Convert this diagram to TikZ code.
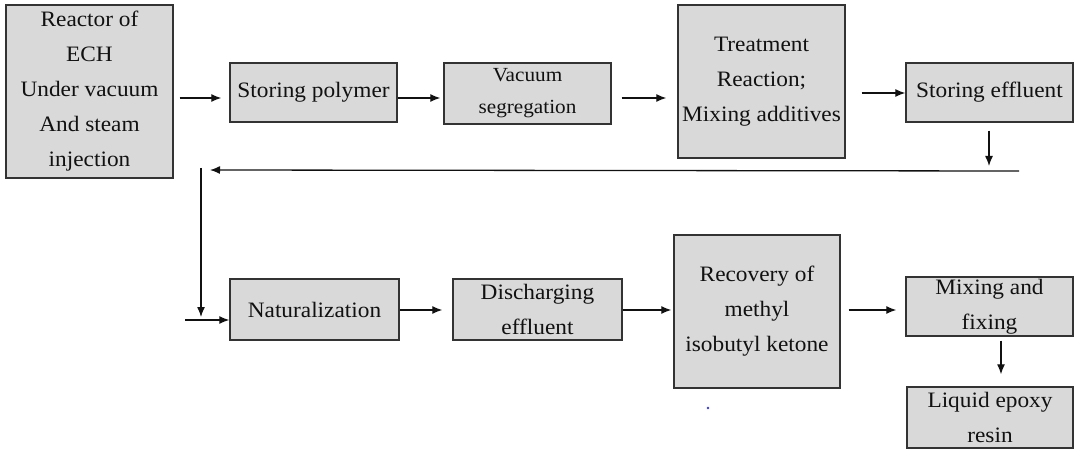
\documentclass[tikz,border=0pt]{standalone}
\usepackage{fontspec}
\setmainfont{Liberation Serif}[FakeStretch=1.06]
\usetikzlibrary{arrows.meta}
\definecolor{boxgray}{HTML}{D9D9D9}
\definecolor{edge}{HTML}{333333}
\definecolor{txt}{HTML}{111111}
\tikzset{
  box/.style={draw=edge, fill=boxgray, line width=1.4pt, inner sep=0pt, align=center,
    text=txt, font=\fontsize{22}{35}\selectfont, minimum width=167pt},
  arr/.style={line width=1.3pt, draw=txt, -{Latex[length=10pt,width=8pt]}},
  ln/.style={line width=1.3pt, draw=txt}
}
\begin{document}
\begin{tikzpicture}[x=1pt,y=-1pt]
\useasboundingbox (0,0) rectangle (1074,449);
% top row
\node[box, minimum height=173pt] (reactor) at (89.5,91.5) {Reactor of\\ECH\\Under vacuum\\And steam\\injection};
\node[box, minimum height=59pt] (storpoly) at (313.5,92.5) {Storing polymer};
\node[box, minimum height=61pt, font=\fontsize{20}{32}\selectfont] (vacseg) at (527.5,93.5) {Vacuum\\segregation};
\node[box, minimum height=153pt] (treat) at (761.5,81.5) {Treatment\\Reaction;\\Mixing additives};
\node[box, minimum height=59pt] (storeff) at (989.5,92.5) {Storing effluent};
% bottom row
\node[box, minimum width=169pt, minimum height=61pt] (natur) at (314.5,309.5) {Naturalization};
\node[box, minimum width=169pt, minimum height=61pt] (disch) at (537.5,309.5) {Discharging\\effluent};
\node[box, minimum width=166pt, minimum height=153pt] (recov) at (757,311.5) {Recovery of\\methyl\\isobutyl ketone};
\node[box, minimum height=59pt] (mixfix) at (989.5,306.5) {Mixing and\\fixing};
\node[box, minimum width=166pt, minimum height=61pt] (liquid) at (990,417.5) {Liquid epoxy\\resin};
% helper coordinates
\coordinate (ra) at (0,98);
\coordinate (rb) at (0,93);
\coordinate (rc) at (0,310);
\coordinate (t) at (989,171);
\coordinate (r1) at (1019,171);
\coordinate (l1) at (210,170);
\coordinate (v1) at (201,168);
\coordinate (v2) at (201,317);
\coordinate (in) at (185,320);
% top connectors
\draw[arr, shorten <=6pt, shorten >=8pt] (reactor.east |- ra) -- (storpoly.west |- ra);
\draw[arr, shorten >=3pt] (storpoly.east |- ra) -- (vacseg.west |- ra);
\draw[arr, shorten <=10pt, shorten >=11pt] (vacseg.east |- ra) -- (treat.west |- ra);
\draw[arr, shorten <=16pt] (treat.east |- rb) -- (storeff.west |- rb);
\draw[arr, shorten <=8pt, shorten >=5pt] (storeff.south -| t) -- (t);
% return line
\draw[arr] (r1) -- (l1);
\draw[arr] (v1) -- (v2);
\draw[arr] (in) -- (natur.west |- in);
% bottom connectors
\draw[arr, shorten >=10pt] (natur.east |- rc) -- (disch.west |- rc);
\draw[arr, shorten >=2pt] (disch.east |- rc) -- (recov.west |- rc);
\draw[arr, shorten <=8pt, shorten >=9pt] (recov.east |- rc) -- (mixfix.west |- rc);
\draw[arr, shorten <=4pt, shorten >=12pt] (mixfix.south -| 1001,0) -- (liquid.north -| 1001,0);
% stray dot
\fill[blue!80] (708,408) circle (1.4pt);
\end{tikzpicture}
\end{document}
